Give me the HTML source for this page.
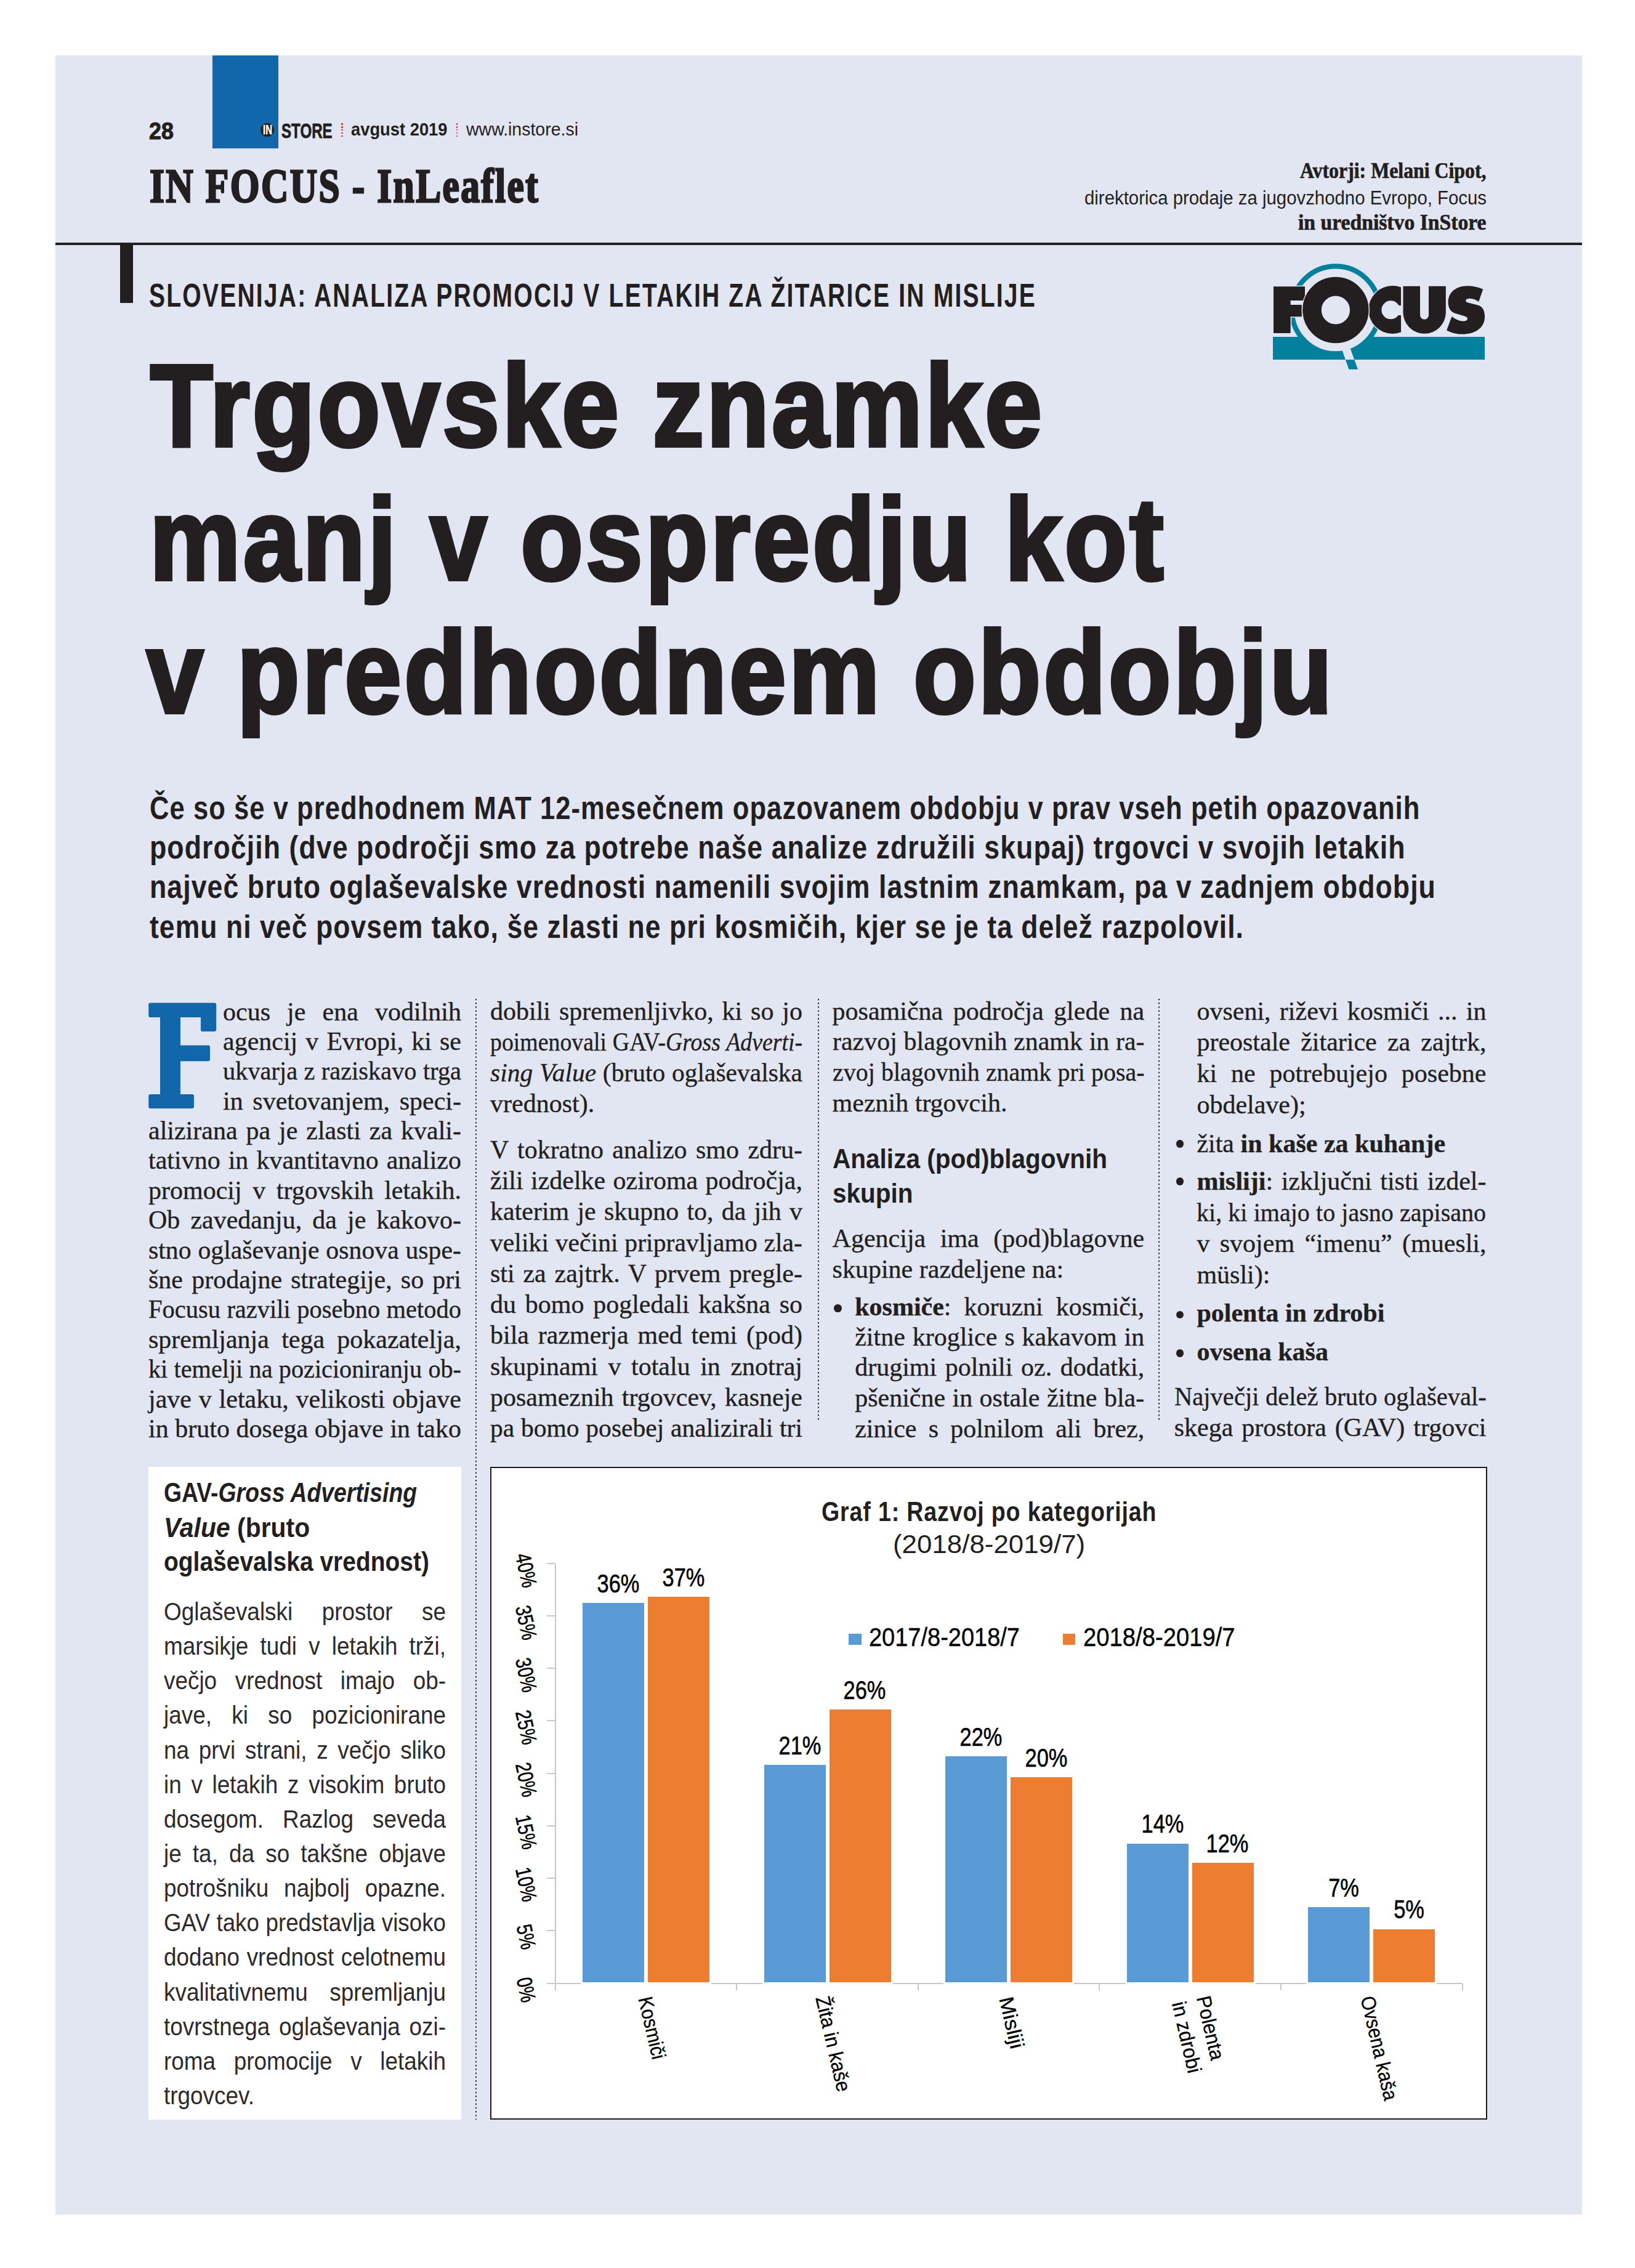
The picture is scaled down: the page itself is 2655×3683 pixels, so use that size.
<!DOCTYPE html><html><head><meta charset="utf-8"><style>html,body{margin:0;padding:0}body{width:2655px;height:3683px;position:relative;overflow:hidden;background:#fff}.t{position:absolute;white-space:nowrap;}.j{text-align:justify;text-align-last:justify;white-space:nowrap}.i{display:inline-block;transform-origin:0 0}</style></head><body>
<div style="position:absolute;left:90px;top:90px;width:2479px;height:3506px;background:#e2e6f3"></div>
<div style="position:absolute;left:345px;top:90px;width:107px;height:151px;background:#1167a9"></div>
<div style="position:absolute;left:90px;top:394px;width:2479px;height:4px;background:#231f20"></div>
<div style="position:absolute;left:195px;top:398px;width:21px;height:94px;background:#231f20"></div>
<div style="position:absolute;left:422.8px;top:199.8px;width:22.7px;height:22.7px;border-radius:50%;background:#231f20"></div>
<div style="position:absolute;left:554.1px;top:200.0px;width:2.6px;height:2.6px;border-radius:50%;background:#e8202a"></div>
<div style="position:absolute;left:554.1px;top:205.0px;width:2.6px;height:2.6px;border-radius:50%;background:#e8202a"></div>
<div style="position:absolute;left:554.1px;top:209.9px;width:2.6px;height:2.6px;border-radius:50%;background:#e8202a"></div>
<div style="position:absolute;left:554.1px;top:214.9px;width:2.6px;height:2.6px;border-radius:50%;background:#e8202a"></div>
<div style="position:absolute;left:554.1px;top:219.9px;width:2.6px;height:2.6px;border-radius:50%;background:#e8202a"></div>
<div style="position:absolute;left:740.6px;top:200.0px;width:2.6px;height:2.6px;border-radius:50%;background:#e8202a"></div>
<div style="position:absolute;left:740.6px;top:205.0px;width:2.6px;height:2.6px;border-radius:50%;background:#e8202a"></div>
<div style="position:absolute;left:740.6px;top:209.9px;width:2.6px;height:2.6px;border-radius:50%;background:#e8202a"></div>
<div style="position:absolute;left:740.6px;top:214.9px;width:2.6px;height:2.6px;border-radius:50%;background:#e8202a"></div>
<div style="position:absolute;left:740.6px;top:219.9px;width:2.6px;height:2.6px;border-radius:50%;background:#e8202a"></div>
<svg style="position:absolute;left:0;top:0" width="2655" height="700" viewBox="0 0 2655 700">
<defs><clipPath id="cbar"><rect x="2067" y="547" width="344" height="37"/></clipPath>
<clipPath id="cbelow"><rect x="2000" y="584" width="500" height="40"/></clipPath>
<clipPath id="cleft"><rect x="2200" y="440" width="74.9" height="120"/></clipPath></defs>
<rect x="2067" y="547" width="344" height="37" fill="#04809f"/>
<circle cx="2168.9" cy="503.5" r="67" fill="#e2e6f3" clip-path="url(#cbar)"/>
<circle cx="2168.9" cy="503.5" r="71.1" fill="none" stroke="#04809f" stroke-width="8.2"/>
<polygon points="2179.3,568 2192.1,564.3 2205,599.8 2190.3,599.8" fill="#e2e6f3" clip-path="url(#cbar)"/>
<polygon points="2179.3,568 2192.1,564.3 2205,599.8 2190.3,599.8" fill="#04809f" clip-path="url(#cbelow)"/>
<rect x="2094" y="486" width="22" height="10.5" fill="#e2e6f3"/>
<path d="M2068,465.3 L2119,465.3 L2119,487.9 L2095.7,487.9 L2095.7,494.9 L2113.8,494.9 L2113.8,514.2 L2095.7,514.2 L2095.7,540.9 L2068,540.9 Z" fill="#231f20" stroke="#e2e6f3" stroke-width="3" paint-order="stroke"/>
<circle cx="2261.5" cy="503" r="40.5" fill="#e2e6f3" clip-path="url(#cleft)"/>
<circle cx="2261.3" cy="503" r="39" fill="#231f20" clip-path="url(#cleft)"/>
<circle cx="2258.4" cy="503.3" r="15" fill="#e2e6f3"/>
<rect x="2258" y="496" width="20" height="16" fill="#e2e6f3"/>
<circle cx="2168.9" cy="503.5" r="55.2" fill="#e2e6f3"/>
<circle cx="2168.9" cy="503.5" r="38.4" fill="none" stroke="#231f20" stroke-width="30.6"/>
<path d="M2278.5,464.8 H2306 V511.7 A7,7 0 0 0 2320,511.7 V464.8 H2347.8 V507.2 A34.65,34.65 0 0 1 2278.5,507.2 Z" fill="#231f20"/>
<path fill="#231f20" d="M2408.2,469.8 C2400,466 2392,464.2 2382.9,464.2 C2364,464.2 2351.6,475 2351.6,490.6 C2351.6,500 2355,505.5 2362,508.5 L2378.6,513.6 C2381.5,514.5 2382.9,516 2382.9,517.5 C2382.9,520.5 2379.5,521.8 2375.8,521.6 C2368,521 2362,517 2357.5,513.9 L2349.1,536.4 C2357,540.5 2366,542.7 2375.8,542.7 C2396,542.7 2411,532 2411,514.6 C2411,502 2406,497.5 2399.7,495.6 L2384,491.6 C2381.5,490.8 2380.1,489.8 2380.1,488.3 C2380.1,486 2383,484.6 2387.1,484.7 C2392,484.8 2397,487 2401.2,489.9 Z"/>
</svg>
<div style="position:absolute;left:1354.4px;top:2118.4px;width:12.6px;height:12.6px;border-radius:50%;background:#231f20"></div>
<div style="position:absolute;left:1909.7px;top:1851.0px;width:12.6px;height:12.6px;border-radius:50%;background:#231f20"></div>
<div style="position:absolute;left:1909.7px;top:1912.4px;width:12.6px;height:12.6px;border-radius:50%;background:#231f20"></div>
<div style="position:absolute;left:1909.7px;top:2128.9px;width:12.6px;height:12.6px;border-radius:50%;background:#231f20"></div>
<div style="position:absolute;left:1909.7px;top:2191.3px;width:12.6px;height:12.6px;border-radius:50%;background:#231f20"></div>
<div style="position:absolute;left:770.5px;top:1621px;width:4px;height:1821px;background:radial-gradient(circle at 2px 2px,#1a1a1a 0 0.95px,transparent 1.5px) 0 0/4px 6.25px repeat-y"></div>
<div style="position:absolute;left:1326.5px;top:1621px;width:4px;height:687px;background:radial-gradient(circle at 2px 2px,#1a1a1a 0 0.95px,transparent 1.5px) 0 0/4px 6.25px repeat-y"></div>
<div style="position:absolute;left:1879.7px;top:1621px;width:4px;height:687px;background:radial-gradient(circle at 2px 2px,#1a1a1a 0 0.95px,transparent 1.5px) 0 0/4px 6.25px repeat-y"></div>
<svg style="position:absolute;left:0;top:0" width="2655" height="3683" viewBox="0 0 2655 3683"><path fill="#1167a9" d="M244,1628.4 H348 Q351.2,1628.4 351.2,1631.5 V1672 Q351.2,1675 348,1675 H329 Q326,1675 326,1672 V1652 H293 V1697.6 H338 Q341,1697.6 341,1700.6 V1720.3 Q341,1723.3 338,1723.3 H293 V1777 H312 Q315,1777 315,1780 V1797 Q315,1800 312,1800 H244 Q241.2,1800 241.2,1797 V1780 Q241.2,1777 244,1777 H260 V1652 H244 Q241.2,1652 241.2,1649 V1631.5 Q241.2,1628.4 244,1628.4 Z"/></svg>
<div style="position:absolute;left:241px;top:2382px;width:508px;height:1060px;background:#fff"></div>
<div style="position:absolute;left:796px;top:2381.5px;width:1619px;height:1060px;box-sizing:border-box;border:2px solid #1e1b1c;background:#fff"></div>
<div style="position:absolute;left:1377.6px;top:2652.6px;width:21.4px;height:18px;background:#5b9bd5"></div>
<div style="position:absolute;left:1726px;top:2652.8px;width:20.4px;height:18px;background:#ed7d31"></div>
<div style="position:absolute;left:900.5px;top:2539px;width:2px;height:693px;background:#c8c8c8"></div>
<div style="position:absolute;left:888px;top:3220px;width:1487px;height:2px;background:#c8c8c8"></div>
<div style="position:absolute;left:888px;top:2538.0px;width:13px;height:2px;background:#c8c8c8"></div>
<div style="position:absolute;left:888px;top:2623.1px;width:13px;height:2px;background:#c8c8c8"></div>
<div style="position:absolute;left:888px;top:2708.2px;width:13px;height:2px;background:#c8c8c8"></div>
<div style="position:absolute;left:888px;top:2793.4px;width:13px;height:2px;background:#c8c8c8"></div>
<div style="position:absolute;left:888px;top:2878.5px;width:13px;height:2px;background:#c8c8c8"></div>
<div style="position:absolute;left:888px;top:2963.6px;width:13px;height:2px;background:#c8c8c8"></div>
<div style="position:absolute;left:888px;top:3048.8px;width:13px;height:2px;background:#c8c8c8"></div>
<div style="position:absolute;left:888px;top:3133.9px;width:13px;height:2px;background:#c8c8c8"></div>
<div style="position:absolute;left:900.5px;top:3221px;width:2px;height:11px;background:#c8c8c8"></div>
<div style="position:absolute;left:1195.1px;top:3221px;width:2px;height:11px;background:#c8c8c8"></div>
<div style="position:absolute;left:1489.7px;top:3221px;width:2px;height:11px;background:#c8c8c8"></div>
<div style="position:absolute;left:1784.3px;top:3221px;width:2px;height:11px;background:#c8c8c8"></div>
<div style="position:absolute;left:2078.9px;top:3221px;width:2px;height:11px;background:#c8c8c8"></div>
<div style="position:absolute;left:2373.5px;top:3221px;width:2px;height:11px;background:#c8c8c8"></div>
<div style="position:absolute;left:943.0px;top:2600.0px;width:106px;height:622.0px;background:#fff"></div>
<div style="position:absolute;left:1049.0px;top:2590.0px;width:106px;height:632.0px;background:#fff"></div>
<div style="position:absolute;left:946.0px;top:2603.0px;width:100px;height:616.0px;background:#5b9bd5"></div>
<div style="position:absolute;left:1052.0px;top:2593.0px;width:100px;height:626.0px;background:#ed7d31"></div>
<div style="position:absolute;left:1237.6px;top:2863.4px;width:106px;height:358.6px;background:#fff"></div>
<div style="position:absolute;left:1343.6px;top:2773.4px;width:106px;height:448.6px;background:#fff"></div>
<div style="position:absolute;left:1240.6px;top:2866.4px;width:100px;height:352.6px;background:#5b9bd5"></div>
<div style="position:absolute;left:1346.6px;top:2776.4px;width:100px;height:442.6px;background:#ed7d31"></div>
<div style="position:absolute;left:1532.2px;top:2849.3px;width:106px;height:372.7px;background:#fff"></div>
<div style="position:absolute;left:1638.2px;top:2883.0px;width:106px;height:339.0px;background:#fff"></div>
<div style="position:absolute;left:1535.2px;top:2852.3px;width:100px;height:366.7px;background:#5b9bd5"></div>
<div style="position:absolute;left:1641.2px;top:2886.0px;width:100px;height:333.0px;background:#ed7d31"></div>
<div style="position:absolute;left:1826.8px;top:2990.6px;width:106px;height:231.4px;background:#fff"></div>
<div style="position:absolute;left:1932.8px;top:3022.0px;width:106px;height:200.0px;background:#fff"></div>
<div style="position:absolute;left:1829.8px;top:2993.6px;width:100px;height:225.4px;background:#5b9bd5"></div>
<div style="position:absolute;left:1935.8px;top:3025.0px;width:100px;height:194.0px;background:#ed7d31"></div>
<div style="position:absolute;left:2121.4px;top:3094.4px;width:106px;height:127.6px;background:#fff"></div>
<div style="position:absolute;left:2227.4px;top:3129.8px;width:106px;height:92.2px;background:#fff"></div>
<div style="position:absolute;left:2124.4px;top:3097.4px;width:100px;height:121.6px;background:#5b9bd5"></div>
<div style="position:absolute;left:2230.4px;top:3132.8px;width:100px;height:86.2px;background:#ed7d31"></div>
<div style="position:absolute;left:854.5px;top:2549.5px;width:0;height:0"><div style="position:absolute;left:0;top:0;transform:translate(-50%,-50%) rotate(77.5deg);font:400 35px/35px 'Liberation Sans', sans-serif;color:#000;-webkit-text-stroke:0.5px #000;white-space:nowrap;transform-origin:50% 50%"><span style="display:inline-block;transform:scaleX(0.80)">40%</span></div></div>
<div style="position:absolute;left:854.5px;top:2634.6px;width:0;height:0"><div style="position:absolute;left:0;top:0;transform:translate(-50%,-50%) rotate(77.5deg);font:400 35px/35px 'Liberation Sans', sans-serif;color:#000;-webkit-text-stroke:0.5px #000;white-space:nowrap;transform-origin:50% 50%"><span style="display:inline-block;transform:scaleX(0.80)">35%</span></div></div>
<div style="position:absolute;left:854.5px;top:2719.8px;width:0;height:0"><div style="position:absolute;left:0;top:0;transform:translate(-50%,-50%) rotate(77.5deg);font:400 35px/35px 'Liberation Sans', sans-serif;color:#000;-webkit-text-stroke:0.5px #000;white-space:nowrap;transform-origin:50% 50%"><span style="display:inline-block;transform:scaleX(0.80)">30%</span></div></div>
<div style="position:absolute;left:854.5px;top:2804.9px;width:0;height:0"><div style="position:absolute;left:0;top:0;transform:translate(-50%,-50%) rotate(77.5deg);font:400 35px/35px 'Liberation Sans', sans-serif;color:#000;-webkit-text-stroke:0.5px #000;white-space:nowrap;transform-origin:50% 50%"><span style="display:inline-block;transform:scaleX(0.80)">25%</span></div></div>
<div style="position:absolute;left:854.5px;top:2890.0px;width:0;height:0"><div style="position:absolute;left:0;top:0;transform:translate(-50%,-50%) rotate(77.5deg);font:400 35px/35px 'Liberation Sans', sans-serif;color:#000;-webkit-text-stroke:0.5px #000;white-space:nowrap;transform-origin:50% 50%"><span style="display:inline-block;transform:scaleX(0.80)">20%</span></div></div>
<div style="position:absolute;left:854.5px;top:2975.1px;width:0;height:0"><div style="position:absolute;left:0;top:0;transform:translate(-50%,-50%) rotate(77.5deg);font:400 35px/35px 'Liberation Sans', sans-serif;color:#000;-webkit-text-stroke:0.5px #000;white-space:nowrap;transform-origin:50% 50%"><span style="display:inline-block;transform:scaleX(0.80)">15%</span></div></div>
<div style="position:absolute;left:854.5px;top:3060.2px;width:0;height:0"><div style="position:absolute;left:0;top:0;transform:translate(-50%,-50%) rotate(77.5deg);font:400 35px/35px 'Liberation Sans', sans-serif;color:#000;-webkit-text-stroke:0.5px #000;white-space:nowrap;transform-origin:50% 50%"><span style="display:inline-block;transform:scaleX(0.80)">10%</span></div></div>
<div style="position:absolute;left:854.5px;top:3145.4px;width:0;height:0"><div style="position:absolute;left:0;top:0;transform:translate(-50%,-50%) rotate(77.5deg);font:400 35px/35px 'Liberation Sans', sans-serif;color:#000;-webkit-text-stroke:0.5px #000;white-space:nowrap;transform-origin:50% 50%"><span style="display:inline-block;transform:scaleX(0.80)">5%</span></div></div>
<div style="position:absolute;left:854.5px;top:3230.5px;width:0;height:0"><div style="position:absolute;left:0;top:0;transform:translate(-50%,-50%) rotate(77.5deg);font:400 35px/35px 'Liberation Sans', sans-serif;color:#000;-webkit-text-stroke:0.5px #000;white-space:nowrap;transform-origin:50% 50%"><span style="display:inline-block;transform:scaleX(0.80)">0%</span></div></div>
<div class="cat" style="position:absolute;left:1046.7px;top:3243px;width:0;height:0"><div style="position:absolute;left:0;top:0;transform-origin:0 0;transform:rotate(77deg) translate(0,-50%);font:400 33px/34px 'Liberation Sans', sans-serif;color:#000;-webkit-text-stroke:0.3px #000;white-space:nowrap;text-align:left"><div style="transform-origin:0 0;transform:scaleX(0.893)">Kosmiči</div></div></div>
<div class="cat" style="position:absolute;left:1335.4px;top:3242px;width:0;height:0"><div style="position:absolute;left:0;top:0;transform-origin:0 0;transform:rotate(77deg) translate(0,-50%);font:400 33px/34px 'Liberation Sans', sans-serif;color:#000;-webkit-text-stroke:0.3px #000;white-space:nowrap;text-align:left"><div style="transform-origin:0 0;transform:scaleX(0.937)">Žita in kaše</div></div></div>
<div class="cat" style="position:absolute;left:1633px;top:3242.8px;width:0;height:0"><div style="position:absolute;left:0;top:0;transform-origin:0 0;transform:rotate(77deg) translate(0,-50%);font:400 33px/34px 'Liberation Sans', sans-serif;color:#000;-webkit-text-stroke:0.3px #000;white-space:nowrap;text-align:left"><div style="transform-origin:0 0;transform:scaleX(1.06)">Misliji</div></div></div>
<div class="cat" style="position:absolute;left:1934px;top:3246px;width:0;height:0"><div style="position:absolute;left:0;top:0;transform-origin:0 0;transform:rotate(77deg) translate(0,-50%);font:400 33px/41px 'Liberation Sans', sans-serif;color:#000;-webkit-text-stroke:0.3px #000;white-space:nowrap;text-align:left"><div style="transform-origin:0 0;transform:scaleX(0.946)">Polenta<br>in zdrobi</div></div></div>
<div class="cat" style="position:absolute;left:2220.4px;top:3241.8px;width:0;height:0"><div style="position:absolute;left:0;top:0;transform-origin:0 0;transform:rotate(77deg) translate(0,-50%);font:400 33px/34px 'Liberation Sans', sans-serif;color:#000;-webkit-text-stroke:0.3px #000;white-space:nowrap;text-align:left"><div style="transform-origin:0 0;transform:scaleX(0.896)">Ovsena kaša</div></div></div>
<div class="t" id="e0" style="left:241.50px;top:193.05px;font:normal 700 39px/39px 'Liberation Sans', sans-serif;color:#231f20;-webkit-text-stroke:1px #231f20;"><span class="i" style="transform:scaleX(0.9219)">28</span></div>
<div class="t" id="e1" style="left:426.60px;top:200.39px;font:normal 700 22.5px/22.5px 'Liberation Sans', sans-serif;color:#fff;-webkit-text-stroke:0.4px #fff;"><span class="i" style="transform:scaleX(0.6667)">IN</span></div>
<div class="t" id="e2" style="left:457.30px;top:194.57px;font:normal 700 34px/34px 'Liberation Sans', sans-serif;color:#231f20;-webkit-text-stroke:0.8px #231f20;"><span class="i" style="transform:scaleX(0.7098)">STORE</span></div>
<div class="t" id="e3" style="left:569.50px;top:195.15px;font:normal 700 30px/30px 'Liberation Sans', sans-serif;color:#231f20;"><span class="i" style="transform:scaleX(0.9110)">avgust 2019</span></div>
<div class="t" id="e4" style="left:757.00px;top:195.15px;font:normal 400 30px/30px 'Liberation Sans', sans-serif;color:#231f20;"><span class="i" style="transform:scaleX(0.9493)">www.instore.si</span></div>
<div class="t" id="e5" style="left:243.00px;top:263.37px;font:normal 700 78px/78px 'Liberation Serif', serif;color:#231f20;letter-spacing:3px;-webkit-text-stroke:3px #231f20;"><span class="i" style="transform:scaleX(0.7882)">IN FOCUS - InLeaflet</span></div>
<div class="t" id="e6" style="left:2111.00px;top:259.34px;font:normal 700 36px/36px 'Liberation Serif', serif;color:#231f20;-webkit-text-stroke:0.7px #231f20;"><span class="i" style="transform:scaleX(0.8838)">Avtorji: Melani Cipot,</span></div>
<div class="t" id="e7" style="left:1760.50px;top:305.61px;font:normal 400 31px/31px 'Liberation Sans', sans-serif;color:#231f20;"><span class="i" style="transform:scaleX(0.9474)">direktorica prodaje za jugovzhodno Evropo, Focus</span></div>
<div class="t" id="e8" style="left:2108.00px;top:342.94px;font:normal 700 36px/36px 'Liberation Serif', serif;color:#231f20;-webkit-text-stroke:0.7px #231f20;"><span class="i" style="transform:scaleX(0.9350)">in uredništvo InStore</span></div>
<div class="t" id="e9" style="left:242.00px;top:452.37px;font:normal 700 54px/54px 'Liberation Sans', sans-serif;color:#231f20;letter-spacing:3px;"><span class="i" style="transform:scaleX(0.7241)">SLOVENIJA: ANALIZA PROMOCIJ V LETAKIH ZA ŽITARICE IN MISLIJE</span></div>
<div class="t" id="e10" style="left:243.90px;top:564.30px;font:normal 700 189px/189px 'Liberation Sans', sans-serif;color:#231f20;letter-spacing:5px;-webkit-text-stroke:6px #231f20;"><span class="i" style="transform:scaleX(0.8796)">Trgovske znamke</span></div>
<div class="t" id="e11" style="left:242.90px;top:780.80px;font:normal 700 189px/189px 'Liberation Sans', sans-serif;color:#231f20;letter-spacing:5px;-webkit-text-stroke:6px #231f20;"><span class="i" style="transform:scaleX(0.8780)">manj v ospredju kot</span></div>
<div class="t" id="e12" style="left:238.40px;top:996.89px;font:normal 700 189px/189px 'Liberation Sans', sans-serif;color:#231f20;letter-spacing:5px;-webkit-text-stroke:6px #231f20;"><span class="i" style="transform:scaleX(0.8771)">v predhodnem obdobju</span></div>
<div class="t" id="e13" style="left:243.00px;top:1286.61px;font:normal 700 51px/51px 'Liberation Sans', sans-serif;color:#231f20;letter-spacing:1.2px;"><span class="i" style="transform:scaleX(0.8549)">Če so še v predhodnem MAT 12-mesečnem opazovanem obdobju v prav vseh petih opazovanih</span></div>
<div class="t" id="e14" style="left:243.00px;top:1350.98px;font:normal 700 51px/51px 'Liberation Sans', sans-serif;color:#231f20;letter-spacing:1.2px;"><span class="i" style="transform:scaleX(0.8762)">področjih (dve področji smo za potrebe naše analize združili skupaj) trgovci v svojih letakih</span></div>
<div class="t" id="e15" style="left:243.00px;top:1415.35px;font:normal 700 51px/51px 'Liberation Sans', sans-serif;color:#231f20;letter-spacing:1.2px;"><span class="i" style="transform:scaleX(0.8757)">največ bruto oglaševalske vrednosti namenili svojim lastnim znamkam, pa v zadnjem obdobju</span></div>
<div class="t" id="e16" style="left:243.00px;top:1479.71px;font:normal 700 51px/51px 'Liberation Sans', sans-serif;color:#231f20;letter-spacing:1.2px;"><span class="i" style="transform:scaleX(0.8730)">temu ni več povsem tako, še zlasti ne pri kosmičih, kjer se je ta delež razpolovil.</span></div>
<div class="t j" id="e17" style="left:362.00px;width:387.00px;top:1621.53px;font:normal 400 42px/42px 'Liberation Serif', serif;color:#231f20;-webkit-text-stroke:0.35px #231f20;">ocus je ena vodilnih</div>
<div class="t j" id="e18" style="left:362.00px;width:387.00px;top:1669.92px;font:normal 400 42px/42px 'Liberation Serif', serif;color:#231f20;-webkit-text-stroke:0.35px #231f20;">agencij v Evropi, ki se</div>
<div class="t j" id="e19" style="left:362.00px;width:402.55px;top:1718.32px;font:normal 400 42px/42px 'Liberation Serif', serif;color:#231f20;-webkit-text-stroke:0.35px #231f20;;transform-origin:0 0;transform:scaleX(0.9614)">ukvarja z raziskavo trga</div>
<div class="t j" id="e20" style="left:362.00px;width:387.00px;top:1766.71px;font:normal 400 42px/42px 'Liberation Serif', serif;color:#231f20;-webkit-text-stroke:0.35px #231f20;">in svetovanjem, speci-</div>
<div class="t j" id="e21" style="left:241.00px;width:508.00px;top:1815.10px;font:normal 400 42px/42px 'Liberation Serif', serif;color:#231f20;-webkit-text-stroke:0.35px #231f20;">alizirana pa je zlasti za kvali-</div>
<div class="t j" id="e22" style="left:241.00px;width:508.00px;top:1863.49px;font:normal 400 42px/42px 'Liberation Serif', serif;color:#231f20;-webkit-text-stroke:0.35px #231f20;">tativno in kvantitavno analizo</div>
<div class="t j" id="e23" style="left:241.00px;width:508.00px;top:1911.89px;font:normal 400 42px/42px 'Liberation Serif', serif;color:#231f20;-webkit-text-stroke:0.35px #231f20;">promocij v trgovskih letakih.</div>
<div class="t j" id="e24" style="left:241.00px;width:508.00px;top:1960.28px;font:normal 400 42px/42px 'Liberation Serif', serif;color:#231f20;-webkit-text-stroke:0.35px #231f20;">Ob zavedanju, da je kakovo-</div>
<div class="t j" id="e25" style="left:241.00px;width:510.73px;top:2008.67px;font:normal 400 42px/42px 'Liberation Serif', serif;color:#231f20;-webkit-text-stroke:0.35px #231f20;;transform-origin:0 0;transform:scaleX(0.9946)">stno oglaševanje osnova uspe-</div>
<div class="t j" id="e26" style="left:241.00px;width:508.00px;top:2057.07px;font:normal 400 42px/42px 'Liberation Serif', serif;color:#231f20;-webkit-text-stroke:0.35px #231f20;">šne prodajne strategije, so pri</div>
<div class="t j" id="e27" style="left:241.00px;width:527.09px;top:2105.46px;font:normal 400 42px/42px 'Liberation Serif', serif;color:#231f20;-webkit-text-stroke:0.35px #231f20;;transform-origin:0 0;transform:scaleX(0.9638)">Focusu razvili posebno metodo</div>
<div class="t j" id="e28" style="left:241.00px;width:508.00px;top:2153.85px;font:normal 400 42px/42px 'Liberation Serif', serif;color:#231f20;-webkit-text-stroke:0.35px #231f20;">spremljanja tega pokazatelja,</div>
<div class="t j" id="e29" style="left:241.00px;width:530.52px;top:2202.24px;font:normal 400 42px/42px 'Liberation Serif', serif;color:#231f20;-webkit-text-stroke:0.35px #231f20;;transform-origin:0 0;transform:scaleX(0.9576)">ki temelji na pozicioniranju ob-</div>
<div class="t j" id="e30" style="left:241.00px;width:508.00px;top:2250.64px;font:normal 400 42px/42px 'Liberation Serif', serif;color:#231f20;-webkit-text-stroke:0.35px #231f20;">jave v letaku, velikosti objave</div>
<div class="t j" id="e31" style="left:241.00px;width:508.39px;top:2299.03px;font:normal 400 42px/42px 'Liberation Serif', serif;color:#231f20;-webkit-text-stroke:0.35px #231f20;;transform-origin:0 0;transform:scaleX(0.9992)">in bruto dosega objave in tako</div>
<div class="t j" id="e32" style="left:796.00px;width:507.00px;top:1620.63px;font:normal 400 42px/42px 'Liberation Serif', serif;color:#231f20;-webkit-text-stroke:0.35px #231f20;">dobili spremenljivko, ki so jo</div>
<div class="t j" id="e33" style="left:796.00px;width:563.33px;top:1670.90px;font:normal 400 42px/42px 'Liberation Serif', serif;color:#231f20;-webkit-text-stroke:0.35px #231f20;;transform-origin:0 0;transform:scaleX(0.9000)">poimenovali GAV-<i>Gross Adverti-</i></div>
<div class="t j" id="e34" style="left:796.00px;width:513.08px;top:1721.16px;font:normal 400 42px/42px 'Liberation Serif', serif;color:#231f20;-webkit-text-stroke:0.35px #231f20;;transform-origin:0 0;transform:scaleX(0.9882)"><i>sing Value</i> (bruto oglaševalska</div>
<div class="t" id="e35" style="left:796.00px;top:1771.43px;font:normal 400 42px/42px 'Liberation Serif', serif;color:#231f20;-webkit-text-stroke:0.35px #231f20;"><span class="i" style="transform:scaleX(1.0000)">vrednost).</span></div>
<div class="t j" id="e36" style="left:796.00px;width:507.00px;top:1845.83px;font:normal 400 42px/42px 'Liberation Serif', serif;color:#231f20;-webkit-text-stroke:0.35px #231f20;">V tokratno analizo smo zdru-</div>
<div class="t j" id="e37" style="left:796.00px;width:507.00px;top:1896.10px;font:normal 400 42px/42px 'Liberation Serif', serif;color:#231f20;-webkit-text-stroke:0.35px #231f20;">žili izdelke oziroma področja,</div>
<div class="t j" id="e38" style="left:796.00px;width:507.00px;top:1946.36px;font:normal 400 42px/42px 'Liberation Serif', serif;color:#231f20;-webkit-text-stroke:0.35px #231f20;">katerim je skupno to, da jih v</div>
<div class="t j" id="e39" style="left:796.00px;width:510.64px;top:1996.63px;font:normal 400 42px/42px 'Liberation Serif', serif;color:#231f20;-webkit-text-stroke:0.35px #231f20;;transform-origin:0 0;transform:scaleX(0.9929)">veliki večini pripravljamo zla-</div>
<div class="t j" id="e40" style="left:796.00px;width:507.00px;top:2046.90px;font:normal 400 42px/42px 'Liberation Serif', serif;color:#231f20;-webkit-text-stroke:0.35px #231f20;">sti za zajtrk. V prvem pregle-</div>
<div class="t j" id="e41" style="left:796.00px;width:507.00px;top:2097.16px;font:normal 400 42px/42px 'Liberation Serif', serif;color:#231f20;-webkit-text-stroke:0.35px #231f20;">du bomo pogledali kakšna so</div>
<div class="t j" id="e42" style="left:796.00px;width:507.00px;top:2147.43px;font:normal 400 42px/42px 'Liberation Serif', serif;color:#231f20;-webkit-text-stroke:0.35px #231f20;">bila razmerja med temi (pod)</div>
<div class="t j" id="e43" style="left:796.00px;width:507.00px;top:2197.70px;font:normal 400 42px/42px 'Liberation Serif', serif;color:#231f20;-webkit-text-stroke:0.35px #231f20;">skupinami v totalu in znotraj</div>
<div class="t j" id="e44" style="left:796.00px;width:507.00px;top:2247.96px;font:normal 400 42px/42px 'Liberation Serif', serif;color:#231f20;-webkit-text-stroke:0.35px #231f20;">posameznih trgovcev, kasneje</div>
<div class="t j" id="e45" style="left:796.00px;width:511.84px;top:2298.23px;font:normal 400 42px/42px 'Liberation Serif', serif;color:#231f20;-webkit-text-stroke:0.35px #231f20;;transform-origin:0 0;transform:scaleX(0.9905)">pa bomo posebej analizirali tri</div>
<div class="t j" id="e46" style="left:1351.60px;width:506.60px;top:1621.23px;font:normal 400 42px/42px 'Liberation Serif', serif;color:#231f20;-webkit-text-stroke:0.35px #231f20;">posamična področja glede na</div>
<div class="t j" id="e47" style="left:1351.60px;width:507.16px;top:1670.33px;font:normal 400 42px/42px 'Liberation Serif', serif;color:#231f20;-webkit-text-stroke:0.35px #231f20;;transform-origin:0 0;transform:scaleX(0.9989)">razvoj blagovnih znamk in ra-</div>
<div class="t j" id="e48" style="left:1351.60px;width:532.88px;top:1720.23px;font:normal 400 42px/42px 'Liberation Serif', serif;color:#231f20;-webkit-text-stroke:0.35px #231f20;;transform-origin:0 0;transform:scaleX(0.9507)">zvoj blagovnih znamk pri posa-</div>
<div class="t" id="e49" style="left:1351.60px;top:1769.73px;font:normal 400 42px/42px 'Liberation Serif', serif;color:#231f20;-webkit-text-stroke:0.35px #231f20;"><span class="i" style="transform:scaleX(1.0000)">meznih trgovcih.</span></div>
<div class="t" id="e50" style="left:1351.60px;top:1859.17px;font:normal 700 45px/45px 'Liberation Sans', sans-serif;color:#231f20;"><span class="i" style="transform:scaleX(0.9010)">Analiza (pod)blagovnih</span></div>
<div class="t" id="e51" style="left:1351.60px;top:1914.97px;font:normal 700 45px/45px 'Liberation Sans', sans-serif;color:#231f20;"><span class="i" style="transform:scaleX(0.9000)">skupin</span></div>
<div class="t j" id="e52" style="left:1351.60px;width:506.60px;top:1990.23px;font:normal 400 42px/42px 'Liberation Serif', serif;color:#231f20;-webkit-text-stroke:0.35px #231f20;">Agencija ima (pod)blagovne</div>
<div class="t" id="e53" style="left:1351.60px;top:2039.73px;font:normal 400 42px/42px 'Liberation Serif', serif;color:#231f20;-webkit-text-stroke:0.35px #231f20;"><span class="i" style="transform:scaleX(1.0000)">skupine razdeljene na:</span></div>
<div class="t j" id="e54" style="left:1388.20px;width:470.00px;top:2100.83px;font:normal 400 42px/42px 'Liberation Serif', serif;color:#231f20;-webkit-text-stroke:0.35px #231f20;"><b>kosmiče</b>: koruzni kosmiči,</div>
<div class="t j" id="e55" style="left:1388.20px;width:470.00px;top:2149.93px;font:normal 400 42px/42px 'Liberation Serif', serif;color:#231f20;-webkit-text-stroke:0.35px #231f20;">žitne kroglice s kakavom in</div>
<div class="t j" id="e56" style="left:1388.20px;width:470.00px;top:2199.43px;font:normal 400 42px/42px 'Liberation Serif', serif;color:#231f20;-webkit-text-stroke:0.35px #231f20;">drugimi polnili oz. dodatki,</div>
<div class="t j" id="e57" style="left:1388.20px;width:470.00px;top:2248.93px;font:normal 400 42px/42px 'Liberation Serif', serif;color:#231f20;-webkit-text-stroke:0.35px #231f20;">pšenične in ostale žitne bla-</div>
<div class="t j" id="e58" style="left:1388.20px;width:470.00px;top:2298.83px;font:normal 400 42px/42px 'Liberation Serif', serif;color:#231f20;-webkit-text-stroke:0.35px #231f20;">zinice s polnilom ali brez,</div>
<div class="t j" id="e59" style="left:1943.40px;width:470.10px;top:1620.93px;font:normal 400 42px/42px 'Liberation Serif', serif;color:#231f20;-webkit-text-stroke:0.35px #231f20;">ovseni, riževi kosmiči ... in</div>
<div class="t j" id="e60" style="left:1943.40px;width:470.10px;top:1670.53px;font:normal 400 42px/42px 'Liberation Serif', serif;color:#231f20;-webkit-text-stroke:0.35px #231f20;">preostale žitarice za zajtrk,</div>
<div class="t j" id="e61" style="left:1943.40px;width:470.10px;top:1721.93px;font:normal 400 42px/42px 'Liberation Serif', serif;color:#231f20;-webkit-text-stroke:0.35px #231f20;">ki ne potrebujejo posebne</div>
<div class="t" id="e62" style="left:1943.40px;top:1772.63px;font:normal 400 42px/42px 'Liberation Serif', serif;color:#231f20;-webkit-text-stroke:0.35px #231f20;"><span class="i" style="transform:scaleX(1.0000)">obdelave);</span></div>
<div class="t" id="e63" style="left:1943.40px;top:1835.93px;font:normal 400 42px/42px 'Liberation Serif', serif;color:#231f20;-webkit-text-stroke:0.35px #231f20;"><span class="i" style="transform:scaleX(1.0000)">žita <b>in kaše za kuhanje</b></span></div>
<div class="t j" id="e64" style="left:1943.40px;width:470.10px;top:1897.33px;font:normal 400 42px/42px 'Liberation Serif', serif;color:#231f20;-webkit-text-stroke:0.35px #231f20;"><b>misliji</b>: izključni tisti izdel-</div>
<div class="t j" id="e65" style="left:1943.40px;width:493.25px;top:1947.73px;font:normal 400 42px/42px 'Liberation Serif', serif;color:#231f20;-webkit-text-stroke:0.35px #231f20;;transform-origin:0 0;transform:scaleX(0.9531)">ki, ki imajo to jasno zapisano</div>
<div class="t j" id="e66" style="left:1943.40px;width:470.10px;top:1998.13px;font:normal 400 42px/42px 'Liberation Serif', serif;color:#231f20;-webkit-text-stroke:0.35px #231f20;">v svojem “imenu” (muesli,</div>
<div class="t" id="e67" style="left:1943.40px;top:2048.73px;font:normal 400 42px/42px 'Liberation Serif', serif;color:#231f20;-webkit-text-stroke:0.35px #231f20;"><span class="i" style="transform:scaleX(1.0000)">müsli):</span></div>
<div class="t" id="e68" style="left:1943.40px;top:2111.43px;font:normal 400 42px/42px 'Liberation Serif', serif;color:#231f20;-webkit-text-stroke:0.35px #231f20;"><span class="i" style="transform:scaleX(1.0000)"><b>polenta in zdrobi</b></span></div>
<div class="t" id="e69" style="left:1943.40px;top:2173.83px;font:normal 400 42px/42px 'Liberation Serif', serif;color:#231f20;-webkit-text-stroke:0.35px #231f20;"><span class="i" style="transform:scaleX(1.0000)"><b>ovsena kaša</b></span></div>
<div class="t j" id="e70" style="left:1906.70px;width:524.61px;top:2246.73px;font:normal 400 42px/42px 'Liberation Serif', serif;color:#231f20;-webkit-text-stroke:0.35px #231f20;;transform-origin:0 0;transform:scaleX(0.9661)">Največji delež bruto oglaševal-</div>
<div class="t j" id="e71" style="left:1906.70px;width:506.80px;top:2297.13px;font:normal 400 42px/42px 'Liberation Serif', serif;color:#231f20;-webkit-text-stroke:0.35px #231f20;">skega prostora (GAV) trgovci</div>
<div class="t" id="e72" style="left:266.00px;top:2401.72px;font:normal 700 44px/44px 'Liberation Sans', sans-serif;color:#231f20;"><span class="i" style="transform:scaleX(0.8490)">GAV-<i>Gross Advertising</i></span></div>
<div class="t" id="e73" style="left:266.00px;top:2458.62px;font:normal 700 44px/44px 'Liberation Sans', sans-serif;color:#231f20;"><span class="i" style="transform:scaleX(0.9300)"><i>Value</i> (bruto</span></div>
<div class="t" id="e74" style="left:266.00px;top:2514.42px;font:normal 700 44px/44px 'Liberation Sans', sans-serif;color:#231f20;"><span class="i" style="transform:scaleX(0.8856)">oglaševalska vrednost)</span></div>
<div class="t j" id="e75" style="left:266.00px;width:508.89px;top:2596.95px;font:normal 400 41px/41px 'Liberation Sans', sans-serif;color:#2e2a2b;;transform-origin:0 0;transform:scaleX(0.9000)">Oglaševalski prostor se</div>
<div class="t j" id="e76" style="left:266.00px;width:508.89px;top:2653.10px;font:normal 400 41px/41px 'Liberation Sans', sans-serif;color:#2e2a2b;;transform-origin:0 0;transform:scaleX(0.9000)">marsikje tudi v letakih trži,</div>
<div class="t j" id="e77" style="left:266.00px;width:508.89px;top:2709.24px;font:normal 400 41px/41px 'Liberation Sans', sans-serif;color:#2e2a2b;;transform-origin:0 0;transform:scaleX(0.9000)">večjo vrednost imajo ob-</div>
<div class="t j" id="e78" style="left:266.00px;width:508.89px;top:2765.38px;font:normal 400 41px/41px 'Liberation Sans', sans-serif;color:#2e2a2b;;transform-origin:0 0;transform:scaleX(0.9000)">jave, ki so pozicionirane</div>
<div class="t j" id="e79" style="left:266.00px;width:508.89px;top:2821.53px;font:normal 400 41px/41px 'Liberation Sans', sans-serif;color:#2e2a2b;;transform-origin:0 0;transform:scaleX(0.9000)">na prvi strani, z večjo sliko</div>
<div class="t j" id="e80" style="left:266.00px;width:508.89px;top:2877.67px;font:normal 400 41px/41px 'Liberation Sans', sans-serif;color:#2e2a2b;;transform-origin:0 0;transform:scaleX(0.9000)">in v letakih z visokim bruto</div>
<div class="t j" id="e81" style="left:266.00px;width:508.89px;top:2933.81px;font:normal 400 41px/41px 'Liberation Sans', sans-serif;color:#2e2a2b;;transform-origin:0 0;transform:scaleX(0.9000)">dosegom. Razlog seveda</div>
<div class="t j" id="e82" style="left:266.00px;width:508.89px;top:2989.95px;font:normal 400 41px/41px 'Liberation Sans', sans-serif;color:#2e2a2b;;transform-origin:0 0;transform:scaleX(0.9000)">je ta, da so takšne objave</div>
<div class="t j" id="e83" style="left:266.00px;width:508.89px;top:3046.10px;font:normal 400 41px/41px 'Liberation Sans', sans-serif;color:#2e2a2b;;transform-origin:0 0;transform:scaleX(0.9000)">potrošniku najbolj opazne.</div>
<div class="t j" id="e84" style="left:266.00px;width:510.70px;top:3102.24px;font:normal 400 41px/41px 'Liberation Sans', sans-serif;color:#2e2a2b;;transform-origin:0 0;transform:scaleX(0.8968)">GAV tako predstavlja visoko</div>
<div class="t j" id="e85" style="left:266.00px;width:508.89px;top:3158.38px;font:normal 400 41px/41px 'Liberation Sans', sans-serif;color:#2e2a2b;;transform-origin:0 0;transform:scaleX(0.9000)">dodano vrednost celotnemu</div>
<div class="t j" id="e86" style="left:266.00px;width:508.89px;top:3214.53px;font:normal 400 41px/41px 'Liberation Sans', sans-serif;color:#2e2a2b;;transform-origin:0 0;transform:scaleX(0.9000)">kvalitativnemu spremljanju</div>
<div class="t j" id="e87" style="left:266.00px;width:508.89px;top:3270.67px;font:normal 400 41px/41px 'Liberation Sans', sans-serif;color:#2e2a2b;;transform-origin:0 0;transform:scaleX(0.9000)">tovrstnega oglaševanja ozi-</div>
<div class="t j" id="e88" style="left:266.00px;width:508.89px;top:3326.81px;font:normal 400 41px/41px 'Liberation Sans', sans-serif;color:#2e2a2b;;transform-origin:0 0;transform:scaleX(0.9000)">roma promocije v letakih</div>
<div class="t" id="e89" style="left:266.00px;top:3382.95px;font:normal 400 41px/41px 'Liberation Sans', sans-serif;color:#2e2a2b;"><span class="i" style="transform:scaleX(0.9000)">trgovcev.</span></div>
<div class="t" id="e90" style="left:1334.00px;top:2431.67px;font:normal 700 45px/45px 'Liberation Sans', sans-serif;color:#231f20;letter-spacing:1px;"><span class="i" style="transform:scaleX(0.8354)">Graf 1: Razvoj po kategorijah</span></div>
<div class="t" id="e91" style="left:1449.60px;top:2485.66px;font:normal 400 43px/43px 'Liberation Sans', sans-serif;color:#231f20;"><span class="i" style="transform:scaleX(1.0203)">(2018/8-2019/7)</span></div>
<div class="t" id="e92" style="left:1411.00px;top:2637.91px;font:normal 400 42px/42px 'Liberation Sans', sans-serif;color:#000;-webkit-text-stroke:0.4px #000;"><span class="i" style="transform:scaleX(0.9043)">2017/8-2018/7</span></div>
<div class="t" id="e93" style="left:1759.30px;top:2637.91px;font:normal 400 42px/42px 'Liberation Sans', sans-serif;color:#000;-webkit-text-stroke:0.4px #000;"><span class="i" style="transform:scaleX(0.9102)">2018/8-2019/7</span></div>
<div class="t" id="e94" style="left:1004.00px;top:2549.66px;font:normal 400 43px/43px 'Liberation Sans', sans-serif;color:#000;-webkit-text-stroke:0.6px #000;;width:0"><span class="i" style="transform-origin:50% 0;transform:translateX(-50%) scaleX(0.8)">36%</span></div>
<div class="t" id="e95" style="left:1109.50px;top:2539.66px;font:normal 400 43px/43px 'Liberation Sans', sans-serif;color:#000;-webkit-text-stroke:0.6px #000;;width:0"><span class="i" style="transform-origin:50% 0;transform:translateX(-50%) scaleX(0.8)">37%</span></div>
<div class="t" id="e96" style="left:1298.60px;top:2813.07px;font:normal 400 43px/43px 'Liberation Sans', sans-serif;color:#000;-webkit-text-stroke:0.6px #000;;width:0"><span class="i" style="transform-origin:50% 0;transform:translateX(-50%) scaleX(0.8)">21%</span></div>
<div class="t" id="e97" style="left:1404.10px;top:2723.07px;font:normal 400 43px/43px 'Liberation Sans', sans-serif;color:#000;-webkit-text-stroke:0.6px #000;;width:0"><span class="i" style="transform-origin:50% 0;transform:translateX(-50%) scaleX(0.8)">26%</span></div>
<div class="t" id="e98" style="left:1593.20px;top:2798.97px;font:normal 400 43px/43px 'Liberation Sans', sans-serif;color:#000;-webkit-text-stroke:0.6px #000;;width:0"><span class="i" style="transform-origin:50% 0;transform:translateX(-50%) scaleX(0.8)">22%</span></div>
<div class="t" id="e99" style="left:1698.70px;top:2832.66px;font:normal 400 43px/43px 'Liberation Sans', sans-serif;color:#000;-webkit-text-stroke:0.6px #000;;width:0"><span class="i" style="transform-origin:50% 0;transform:translateX(-50%) scaleX(0.8)">20%</span></div>
<div class="t" id="e100" style="left:1887.80px;top:2940.26px;font:normal 400 43px/43px 'Liberation Sans', sans-serif;color:#000;-webkit-text-stroke:0.6px #000;;width:0"><span class="i" style="transform-origin:50% 0;transform:translateX(-50%) scaleX(0.8)">14%</span></div>
<div class="t" id="e101" style="left:1993.30px;top:2971.66px;font:normal 400 43px/43px 'Liberation Sans', sans-serif;color:#000;-webkit-text-stroke:0.6px #000;;width:0"><span class="i" style="transform-origin:50% 0;transform:translateX(-50%) scaleX(0.8)">12%</span></div>
<div class="t" id="e102" style="left:2182.40px;top:3044.07px;font:normal 400 43px/43px 'Liberation Sans', sans-serif;color:#000;-webkit-text-stroke:0.6px #000;;width:0"><span class="i" style="transform-origin:50% 0;transform:translateX(-50%) scaleX(0.8)">7%</span></div>
<div class="t" id="e103" style="left:2287.90px;top:3079.47px;font:normal 400 43px/43px 'Liberation Sans', sans-serif;color:#000;-webkit-text-stroke:0.6px #000;;width:0"><span class="i" style="transform-origin:50% 0;transform:translateX(-50%) scaleX(0.8)">5%</span></div>
</body></html>
